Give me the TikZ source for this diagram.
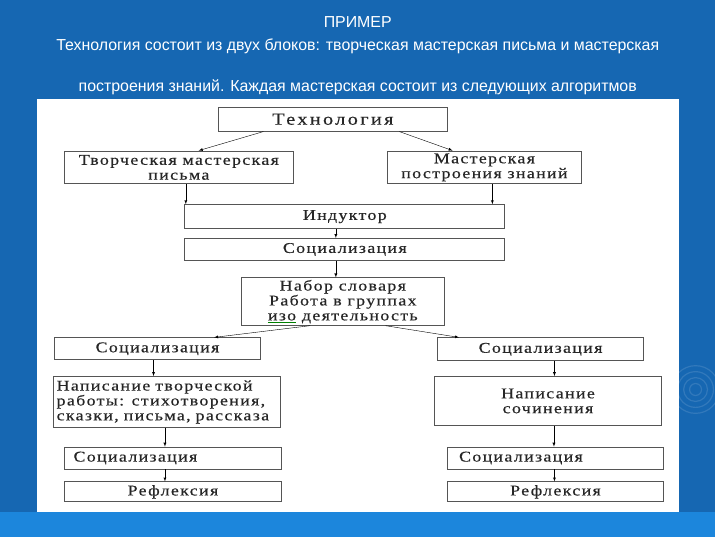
\documentclass[tikz,border=0pt]{standalone}
\usepackage{fontspec}
\setmainfont{Liberation Serif}
\newfontfamily\titlefont{Liberation Sans}
\newfontfamily\boxfont[FakeStretch=1.2, LetterSpace=9, FakeBold=0.4]{Liberation Serif}
\newfontfamily\techfont[FakeStretch=1.2, LetterSpace=14, FakeBold=0.4]{Liberation Serif}
\usetikzlibrary{positioning}

\definecolor{slideblue}{HTML}{1667B2}
\definecolor{bandblue}{HTML}{1C86DC}
\definecolor{boxline}{HTML}{555555}

\tikzset{
  box/.style={draw=boxline, line width=0.9pt, fill=white, inner sep=2pt, text=black!85,
    font=\boxfont\fontsize{15}{15}\selectfont, align=center},
  heading/.style={text=white, font=\titlefont\fontsize{16}{18}\selectfont}
}

\begin{document}
\begin{tikzpicture}[x=1pt, y=-1pt, >=latex]

    % slide background
    \fill[slideblue] (0,0) rectangle (720,540);
    \fill[bandblue] (0,515) rectangle (720,540);
    \foreach \r in {6,12,18,24}
        \draw[white, opacity=0.12, line width=1.2pt] (700,392) circle (\r);
    \fill[white] (37,100) rectangle (683,515);

    \node[heading] (title) at (360,22) {ПРИМЕР};
    \node[heading] (line1) at (360,47) {Технология состоит из двух блоков: творческая мастерская письма и мастерская};
    \node[heading] (line2) at (360,88) {построения знаний. Каждая мастерская состоит из следующих алгоритмов};

    \node[box, minimum width=230pt, minimum height=24pt, font=\techfont\fontsize{17}{18}\selectfont] (tech) at (335,120) {Технология};
    \node[box, minimum width=230pt, minimum height=33pt] (tvor) at (180,168.5) {Творческая мастерская\\письма};
    \node[box, minimum width=195pt, minimum height=33pt] (master) at (487.5,168.5) {Мастерская\\построения знаний};
    \node[box, minimum width=322pt, minimum height=24pt] (ind) at (347,218) {Индуктор};
    \node[box, minimum width=322pt, minimum height=22pt] (soc) at (347,251) {Социализация};
    \node[box, minimum width=204pt, minimum height=45pt] (nabor) at (345,303.5)
        {Набор словаря\\Работа в группах\\{\color{green!50!black}\underline{\color{black!85}изо}} деятельность};

    \node[box, minimum width=207pt, minimum height=22pt] (socL) at (158.5,351) {Социализация};
    \node[box, minimum width=208pt, minimum height=23pt] (socR) at (544,351.5) {Социализация};

    \node[box, minimum width=228pt, minimum height=51pt, text width=222pt, align=left] (writeL) at (168,404.5)
        {Написание творческой\\работы: стихотворения,\\сказки, письма, рассказа};
    \node[box, minimum width=229pt, minimum height=49pt] (writeR) at (551.5,403.5) {Написание\\сочинения};

    \node[box, minimum width=218pt, minimum height=22pt, text width=200pt, align=left] (socL2) at (174,461) {Социализация};
    \node[box, minimum width=218pt, minimum height=22pt, text width=194pt, align=left] (socR2) at (559,461) {Социализация};
    \node[box, minimum width=218pt, minimum height=20pt] (reflL) at (174,495) {Рефлексия};
    \node[box, minimum width=218pt, minimum height=20pt] (reflR) at (559,495) {Рефлексия};

    \draw[->] ([xshift=-70pt]tech.south) -- ([xshift=20pt]tvor.north);
    \draw[->] ([xshift=67pt]tech.south) -- ([xshift=-32pt]master.north);
    \draw[->] ([xshift=7pt]tvor.south) -- ([xshift=7pt]tvor.south |- ind.north);
    \draw[->] ([xshift=8pt]master.south) -- ([xshift=8pt]master.south |- ind.north);
    \draw[->] ([xshift=-9pt]ind.south) -- ([xshift=-9pt]soc.north);
    \draw[->] ([xshift=-9pt]soc.south) -- ([xshift=-9pt]soc.south |- nabor.north);
    \draw[->] ([xshift=-33pt]nabor.south) -- ([xshift=57pt]socL.north);
    \draw[->] ([xshift=43pt]nabor.south) -- ([xshift=-82pt]socR.north);

    \draw[->] ([xshift=-4pt]socL.south) -- ([xshift=-4pt]socL.south |- writeL.north);
    \draw[->] ([xshift=-2pt]writeL.south) -- ([xshift=-2pt]writeL.south |- socL2.north);
    \draw[->] ([xshift=-8pt]socL2.south) -- ([xshift=-8pt]reflL.north);
    \draw[->] ([xshift=14pt]socR.south) -- ([xshift=14pt]socR.south |- writeR.north);
    \draw[->] ([xshift=6pt]writeR.south) -- ([xshift=6pt]writeR.south |- socR2.north);
    \draw[->] ([xshift=-1pt]socR2.south) -- ([xshift=-1pt]reflR.north);

\end{tikzpicture}
\end{document}
